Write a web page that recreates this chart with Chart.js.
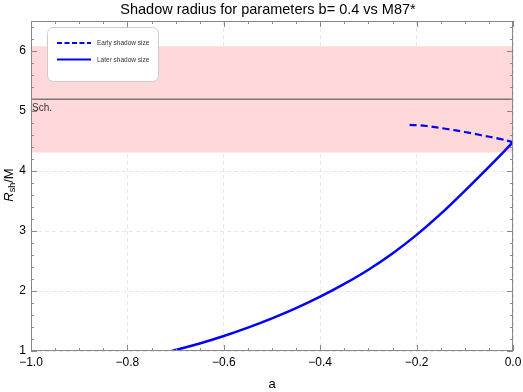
<!DOCTYPE html>
<html>
<head>
<meta charset="utf-8">
<script src="https://cdn.jsdelivr.net/npm/chart.js@4"></script>
<style>
  html, body { margin: 0; padding: 0; background: #fff; }
  #wrap { width: 523px; height: 392px; }
</style>
</head>
<body>
<div id="wrap"><canvas id="chart"></canvas></div>
<script>
// data
const laterA = [-0.7075, -0.65, -0.6, -0.55, -0.5, -0.45, -0.4, -0.35, -0.3, -0.25, -0.2, -0.15, -0.1, -0.05, 0];
const laterR = [1.0, 1.125, 1.25, 1.39, 1.545, 1.715, 1.905, 2.118, 2.355, 2.625, 2.935, 3.285, 3.67, 4.07, 4.48];
const earlyA = [-0.2145, -0.18, -0.137, -0.1, -0.068, -0.03, 0];
const earlyR = [4.77, 4.75, 4.70, 4.65, 4.60, 4.54, 4.48];
const bandRange = [-1, 0];
const bandLow = 4.31;
const bandHigh = 6.08;
const schR = 5.196;
const xTicks = [-1.0, -0.8, -0.6, -0.4, -0.2, 0.0];
const yTicks = [1, 2, 3, 4, 5, 6];

const FONT = '"Liberation Sans", Arial, sans-serif';
const pts = (xs, ys) => xs.map((x, i) => ({ x: x, y: ys[i] }));

// cadre + petites graduations vers l'intérieur, légende, textes
const decor = {
    id: 'decor',
    afterDraw(chart) {
        const ctx = chart.ctx;
        const a = chart.chartArea;
        const xs = chart.scales.x, ys = chart.scales.y;
        ctx.save();
        ctx.strokeStyle = '#888';
        ctx.lineWidth = 1;
        ctx.strokeRect(a.left + 0.5, a.top + 0.5, a.right - a.left - 1, a.bottom - a.top - 1);

        ctx.beginPath();
        for (let i = 0; i <= 20; i++) {
            const v = -1 + i * 0.05;
            const px = Math.round(xs.getPixelForValue(v)) + 0.5;
            const len = (i % 4 === 0) ? 6 : 3;
            ctx.moveTo(px, a.bottom); ctx.lineTo(px, a.bottom - len);
            ctx.moveTo(px, a.top); ctx.lineTo(px, a.top + len);
        }
        for (let i = 0; i <= 27; i++) {
            const v = 1 + i * 0.2;
            const py = Math.round(ys.getPixelForValue(v)) + 0.5;
            const len = (i % 5 === 0) ? 6 : 3;
            ctx.moveTo(a.left, py); ctx.lineTo(a.left + len, py);
            ctx.moveTo(a.right, py); ctx.lineTo(a.right - len, py);
        }
        ctx.stroke();

        // Sch. label
        ctx.fillStyle = '#333';
        ctx.font = '10px ' + FONT;
        ctx.textBaseline = 'top';
        ctx.fillText('Sch.', a.left + 1, ys.getPixelForValue(schR) + 4);

        // légende
        const lx = 47.5, ly = 27.5, lw = 111, lh = 54;
        ctx.beginPath();
        ctx.roundRect(lx, ly, lw, lh, 6);
        ctx.fillStyle = '#fff';
        ctx.fill();
        ctx.strokeStyle = '#ccc';
        ctx.stroke();
        ctx.strokeStyle = '#0000ff';
        ctx.lineWidth = 2;
        ctx.setLineDash([5, 2.5]);
        ctx.beginPath(); ctx.moveTo(57, 43); ctx.lineTo(91, 43); ctx.stroke();
        ctx.setLineDash([]);
        ctx.beginPath(); ctx.moveTo(57, 59.5); ctx.lineTo(91, 59.5); ctx.stroke();
        ctx.fillStyle = '#333';
        ctx.font = '6.5px ' + FONT;
        ctx.textBaseline = 'middle';
        ctx.fillText('Early shadow size', 97, 43);
        ctx.fillText('Later shadow size', 97, 60);

        // titre
        ctx.fillStyle = '#000';
        ctx.font = '14.5px ' + FONT;
        ctx.textAlign = 'center';
        ctx.textBaseline = 'middle';
        ctx.fillText('Shadow radius for parameters b= 0.4 vs M87*', 268, 10);

        // titre de l'axe y : R_sh/M
        ctx.save();
        ctx.translate(9, 185);
        ctx.rotate(-Math.PI / 2);
        ctx.textAlign = 'left';
        ctx.textBaseline = 'middle';
        ctx.font = 'italic 13px ' + FONT;
        const w1 = ctx.measureText('R').width;
        ctx.font = '13px ' + FONT;
        const w3 = ctx.measureText('/M').width;
        ctx.font = '9px ' + FONT;
        const w2 = ctx.measureText('sh').width;
        let x0 = -(w1 + w2 + w3) / 2;
        ctx.font = 'italic 13px ' + FONT;
        ctx.fillText('R', x0, 0);
        ctx.font = '9px ' + FONT;
        ctx.fillText('sh', x0 + w1, 4);
        ctx.font = '13px ' + FONT;
        ctx.fillText('/M', x0 + w1 + w2, 0);
        ctx.restore();

        ctx.restore();
    }
};

new Chart(document.getElementById('chart'), {
    type: 'line',
    data: {
        datasets: [
            {
                label: 'bandHigh',
                data: pts(bandRange, [bandHigh, bandHigh]),
                borderWidth: 0,
                pointRadius: 0,
                order: 10,
                fill: false
            },
            {
                label: 'bandLow',
                data: pts(bandRange, [bandLow, bandLow]),
                borderWidth: 0,
                pointRadius: 0,
                backgroundColor: 'rgb(255,217,217)',
                order: 9,
                fill: '-1'
            },
            {
                label: 'Sch.',
                data: pts(bandRange, [schR, schR]),
                borderColor: '#777',
                borderWidth: 1.4,
                pointRadius: 0,
                order: 5,
                fill: false
            },
            {
                label: 'Early shadow size',
                data: pts(earlyA, earlyR),
                borderColor: '#0000ff',
                borderWidth: 2.2,
                borderDash: [7, 4],
                pointRadius: 0,
                order: 1,
                tension: 0.4,
                fill: false
            },
            {
                label: 'Later shadow size',
                data: pts(laterA, laterR),
                borderColor: '#0000ff',
                borderWidth: 2.5,
                pointRadius: 0,
                order: 0,
                tension: 0.4,
                fill: false
            }
        ]
    },
    options: {
        responsive: true,
        maintainAspectRatio: false,
        animation: false,
        layout: { padding: { top: 21, right: 0, left: 0, bottom: 0 } },
        plugins: {
            legend: { display: false },
            title: { display: false },
            tooltip: { enabled: false }
        },
        scales: {
            x: {
                type: 'linear',
                min: -1,
                max: 0,
                afterFit: (s) => { s.height = 41; s.paddingLeft = 0; s.paddingRight = 10; },
                afterBuildTicks: (s) => { s.ticks = xTicks.map(v => ({ value: v })); },
                grid: { color: '#e8e8e8', drawTicks: false },
                border: { display: false, dash: [4, 3] },
                ticks: {
                    padding: 4,
                    color: '#000',
                    font: { family: FONT, size: 12 },
                    maxRotation: 0,
                    callback: (v) => v.toFixed(1).replace('-', '\u2212')
                },
                title: {
                    display: true,
                    text: 'a',
                    color: '#000',
                    font: { family: FONT, size: 13 },
                    padding: { top: 4, bottom: 0 }
                }
            },
            y: {
                type: 'linear',
                min: 1,
                max: 6.5,
                afterFit: (s) => { s.width = 31; },
                afterBuildTicks: (s) => { s.ticks = yTicks.map(v => ({ value: v })); },
                grid: { color: '#e8e8e8', drawTicks: false },
                border: { display: false, dash: [4, 3] },
                ticks: {
                    padding: 5,
                    color: '#000',
                    font: { family: FONT, size: 12 },
                    callback: (v) => String(v)
                }
            }
        }
    },
    plugins: [decor]
});
</script>
</body>
</html>
